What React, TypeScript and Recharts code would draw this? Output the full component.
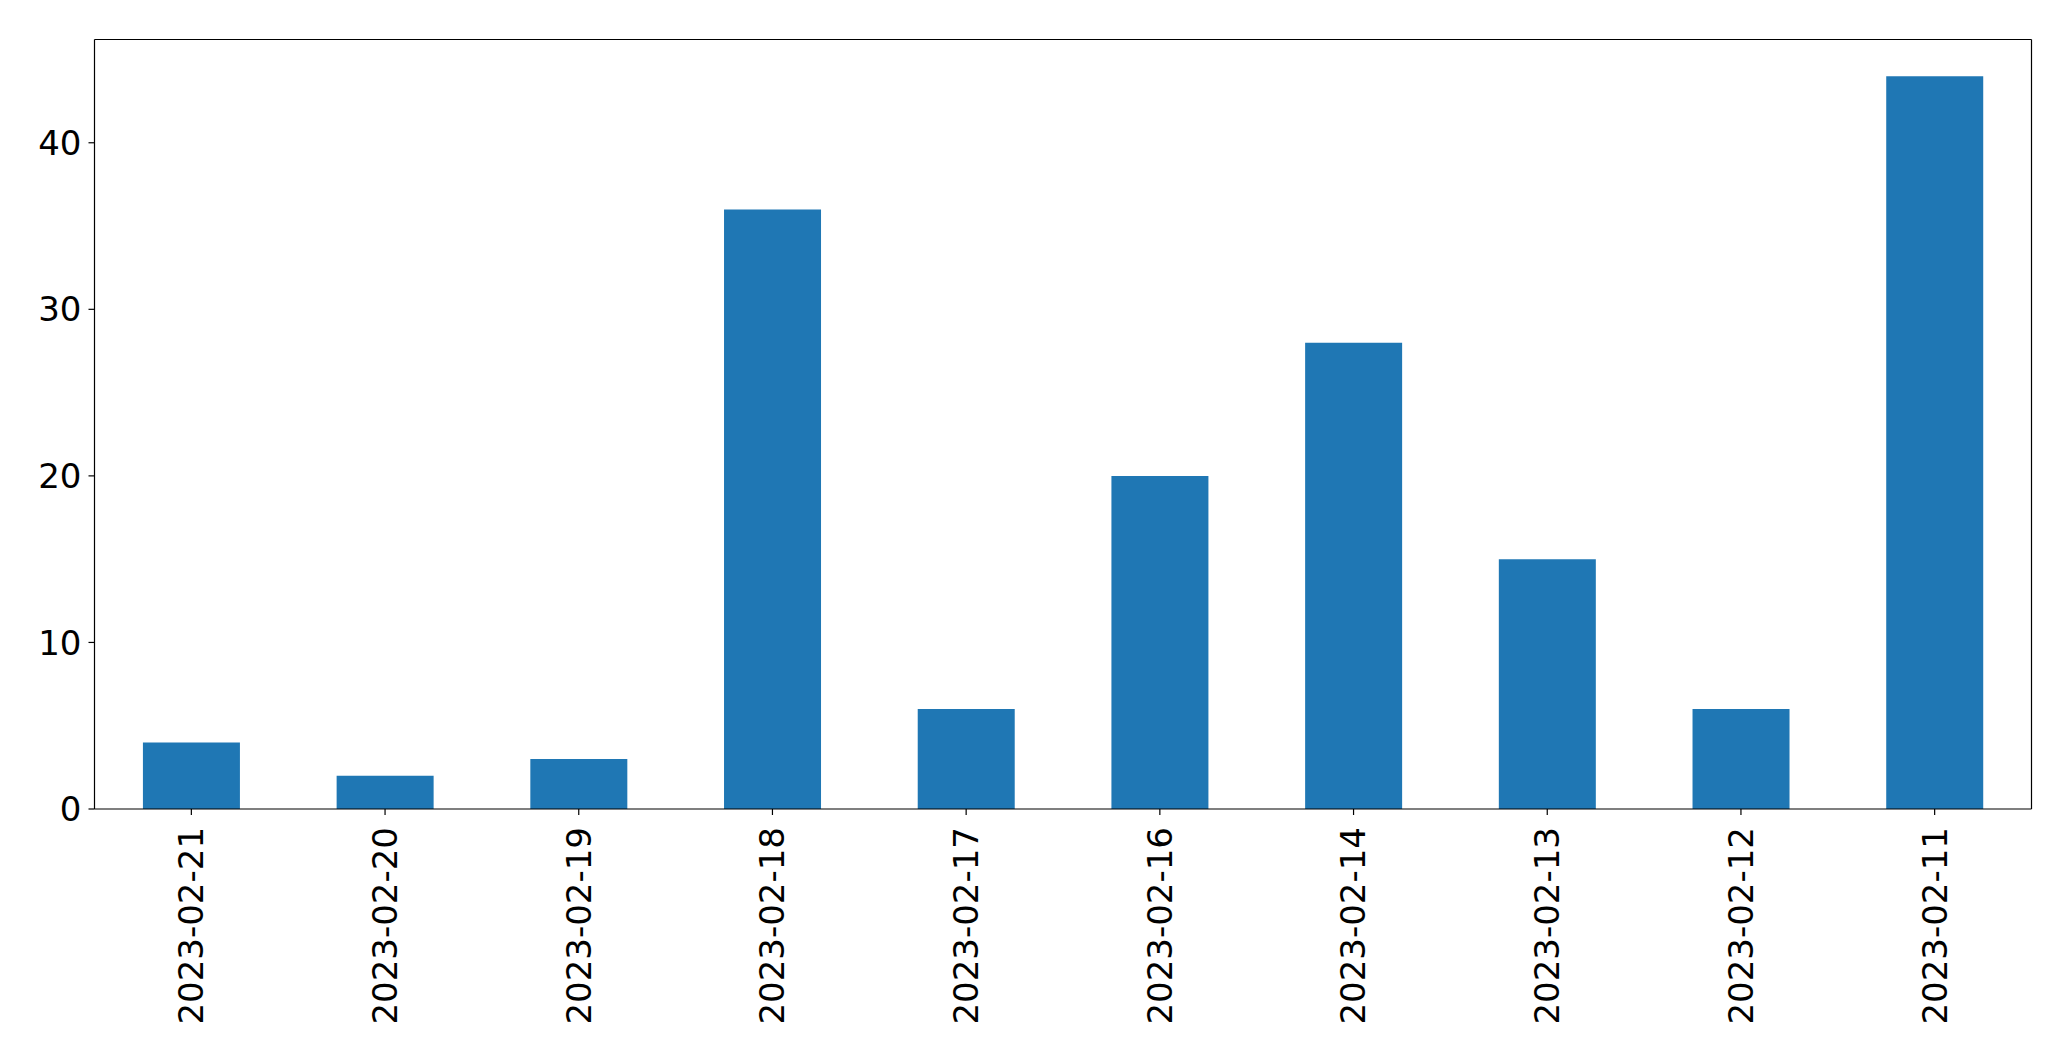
import React from 'react';
import { BarChart, Bar, XAxis, YAxis } from 'recharts';

const dates = [
  '2023-02-21',
  '2023-02-20',
  '2023-02-19',
  '2023-02-18',
  '2023-02-17',
  '2023-02-16',
  '2023-02-14',
  '2023-02-13',
  '2023-02-12',
  '2023-02-11',
];
const counts = [4, 2, 3, 36, 6, 20, 28, 15, 6, 44];
const yTicks = [0, 10, 20, 30, 40];

const data = dates.map((date, i) => ({ date, count: counts[i] }));

const FONT = '"DejaVu Sans", sans-serif';
const LINE = { stroke: '#000', strokeWidth: 1.2 };

const DateTick = (props: any) => {
  const { x, y, payload } = props;
  return (
    <text
      x={x}
      y={y}
      transform={`rotate(-90, ${x}, ${y})`}
      textAnchor="end"
      dy="0.35em"
      fontSize={34}
      fontFamily={FONT}
      fill="#000"
    >
      {payload.value}
    </text>
  );
};

const App: React.FC = () => {
  return (
    <BarChart
      width={2063}
      height={1053}
      data={data}
      margin={{ top: 30.5, right: 38.5, left: 0, bottom: 0 }}
      barCategoryGap="25%"
    >
      <XAxis
        dataKey="date"
        height={252}
        interval={0}
        tick={<DateTick />}
        tickSize={6}
        tickMargin={12}
        axisLine={LINE}
        tickLine={LINE}
      />
      <XAxis
        xAxisId="top"
        orientation="top"
        dataKey="date"
        height={1}
        tick={false}
        tickLine={false}
        axisLine={LINE}
      />
      <YAxis
        width={86.5}
        domain={[0, 46.2]}
        ticks={yTicks}
        allowDataOverflow
        tickSize={6}
        tickMargin={7}
        tick={{ fontSize: 34, fontFamily: FONT, fill: '#000' }}
        axisLine={LINE}
        tickLine={LINE}
      />
      <YAxis
        yAxisId="right"
        orientation="right"
        width={1}
        domain={[0, 46.2]}
        tick={false}
        tickLine={false}
        axisLine={LINE}
      />
      <Bar dataKey="count" fill="#1f77b4" isAnimationActive={false} />
    </BarChart>
  );
};

export default App;
